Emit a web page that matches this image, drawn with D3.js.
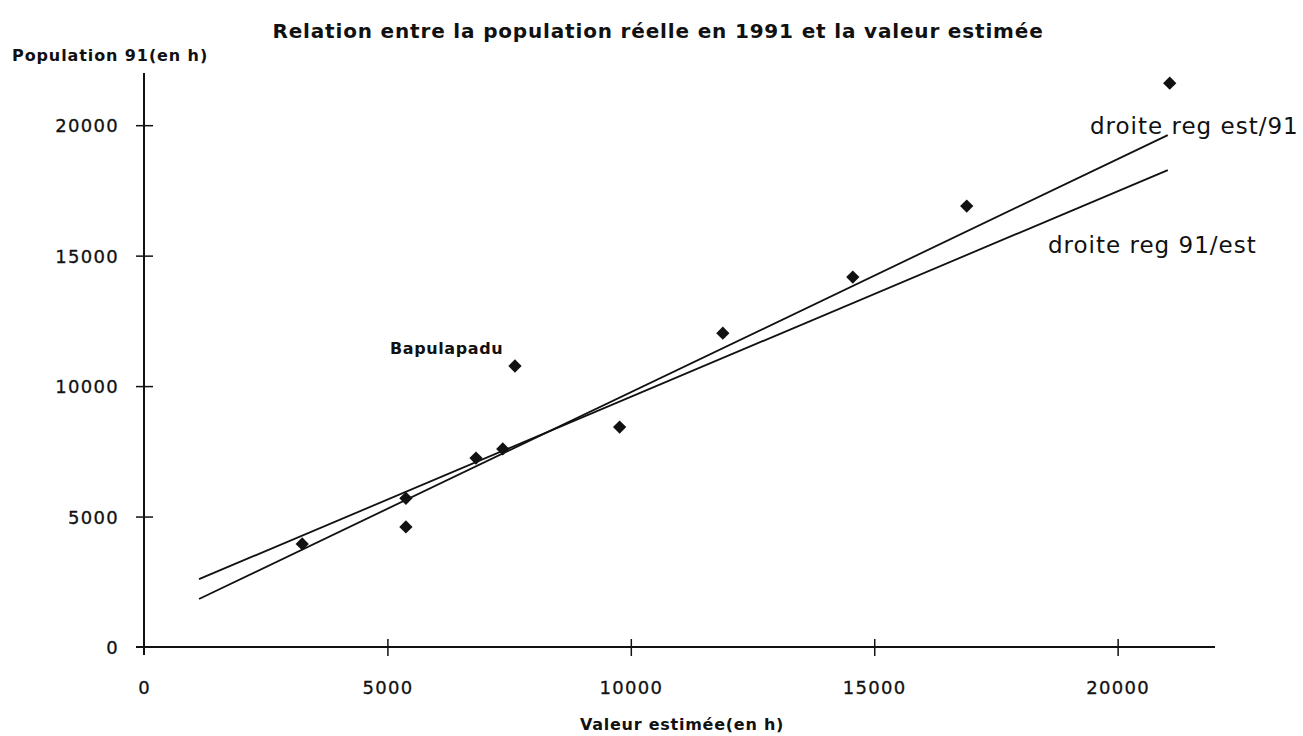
<!DOCTYPE html>
<html>
<head>
<meta charset="utf-8">
<script src="https://cdn.jsdelivr.net/npm/d3@7"></script>
<style>
  html, body { margin: 0; padding: 0; background: #fff; }
  svg { display: block; }
</style>
</head>
<body>
<svg id="chart" width="1303" height="736"></svg>
<script>
// ---- data ----
const estimated = [3250, 5380, 5380, 6820, 7370, 7620, 9770, 11890, 14560, 16900, 21070];
const population91 = [3950, 4600, 5700, 7240, 7590, 10770, 8430, 12030, 14180, 16900, 21610];
const xTicks = [0, 5000, 10000, 15000, 20000];
const yTicks = [0, 5000, 10000, 15000, 20000];
const lineXEnds = [1130, 21030];
const regEst91 = [1840, 19620];   // droite reg est/91 (steeper)
const reg91Est = [2600, 18280];   // droite reg 91/est
const lineNames = ["droite reg est/91", "droite reg 91/est"];
const outlierName = "Bapulapadu";
const title = "Relation entre la population réelle en 1991 et la valeur estimée";
const yTitle = "Population 91(en h)";
const xTitle = "Valeur estimée(en h)";

const svg = d3.select("#chart");
const x = d3.scaleLinear().domain([0, 22000]).range([144, 1215]);
const y = d3.scaleLinear().domain([0, 22000]).range([647, 73]);

const ink = "#111";
const font = "'DejaVu Sans', sans-serif";

// axes
const xAxis = svg.append("g").attr("transform", `translate(0,${y(0)})`)
  .call(d3.axisBottom(x).tickValues(xTicks).tickSize(8).tickFormat(d3.format("d")));
xAxis.select(".domain").remove();
xAxis.selectAll(".tick line").attr("y1", -8).attr("y2", 9).attr("stroke", ink).attr("stroke-width", 1.5);
xAxis.selectAll(".tick text").attr("y", 0).attr("dy", 0)
  .attr("transform", "translate(0,47)")
  .attr("font-family", font).attr("font-size", 18).attr("letter-spacing", 1.3)
  .attr("stroke", ink).attr("stroke-width", 0.3)
  .attr("fill", ink).attr("text-anchor", "middle");
xAxis.selectAll(".tick").filter(d => d === 0).select("line").remove();

const yAxis = svg.append("g").attr("transform", `translate(${x(0)},0)`)
  .call(d3.axisLeft(y).tickValues(yTicks).tickSize(8).tickFormat(d3.format("d")));
yAxis.select(".domain").remove();
yAxis.selectAll(".tick line").attr("x1", -8).attr("x2", 9).attr("stroke", ink).attr("stroke-width", 1.5);
yAxis.selectAll(".tick").filter(d => d === 0).select("line").remove();
yAxis.selectAll(".tick text").attr("x", -25).attr("dy", "0.36em")
  .attr("font-family", font).attr("font-size", 18).attr("letter-spacing", 1.3)
  .attr("stroke", ink).attr("stroke-width", 0.3)
  .attr("fill", ink).attr("text-anchor", "end");

// axis lines
svg.append("line").attr("x1", x(0) - 8).attr("x2", x(22000)).attr("y1", y(0)).attr("y2", y(0))
  .attr("stroke", ink).attr("stroke-width", 2);
svg.append("line").attr("x1", x(0)).attr("x2", x(0)).attr("y1", y(22000)).attr("y2", y(0) + 8)
  .attr("stroke", ink).attr("stroke-width", 2);

// regression lines
const lineGen = d3.line().x(d => x(d[0])).y(d => y(d[1]));
[regEst91, reg91Est].forEach(vals => {
  svg.append("path").datum(lineXEnds.map((v, i) => [v, vals[i]]))
    .attr("d", lineGen).attr("fill", "none").attr("stroke", ink).attr("stroke-width", 1.8);
});

// points
const sym = d3.symbol().type(d3.symbolSquare).size(88);
svg.append("g").selectAll("path").data(estimated.map((v, i) => [v, population91[i]]))
  .join("path")
  .attr("d", sym)
  .attr("transform", d => `translate(${x(d[0])},${y(d[1])}) rotate(45)`)
  .attr("fill", ink);

// texts
svg.append("text").attr("x", 658).attr("y", 38).attr("text-anchor", "middle")
  .attr("font-family", font).attr("font-weight", "bold").attr("font-size", 20)
  .attr("letter-spacing", 0.83)
  .attr("fill", ink).text(title);
svg.append("text").attr("x", 12).attr("y", 61)
  .attr("font-family", font).attr("font-weight", "bold").attr("font-size", 16)
  .attr("letter-spacing", 0.9)
  .attr("fill", ink).text(yTitle);
svg.append("text").attr("x", 682).attr("y", 730).attr("text-anchor", "middle")
  .attr("font-family", font).attr("font-weight", "bold").attr("font-size", 16)
  .attr("letter-spacing", 0.75)
  .attr("fill", ink).text(xTitle);
svg.append("text").attr("x", 390).attr("y", 354)
  .attr("font-family", font).attr("font-weight", "bold").attr("font-size", 16)
  .attr("letter-spacing", 0.6)
  .attr("fill", ink).text(outlierName);
svg.append("text").attr("x", 1090).attr("y", 134)
  .attr("font-family", font).attr("font-size", 23).attr("letter-spacing", 1.0)
  .attr("fill", ink).text(lineNames[0]);
svg.append("text").attr("x", 1048).attr("y", 253)
  .attr("font-family", font).attr("font-size", 23).attr("letter-spacing", 1.0)
  .attr("fill", ink).text(lineNames[1]);
</script>
</body>
</html>
